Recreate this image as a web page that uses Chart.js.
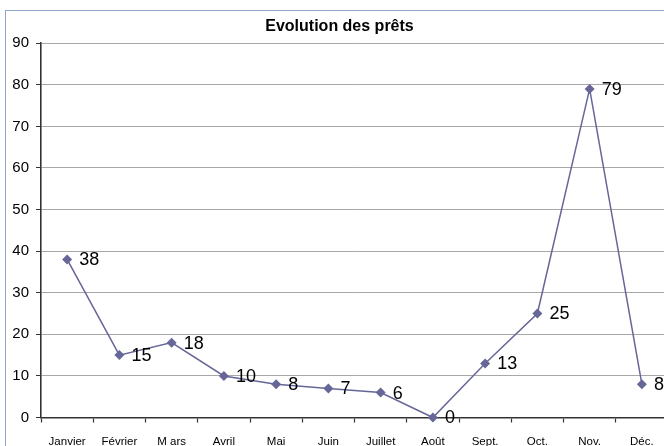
<!DOCTYPE html>
<html>
<head>
<meta charset="utf-8">
<script src="https://cdn.jsdelivr.net/npm/chart.js@4/dist/chart.umd.min.js"></script>
<style>
  html, body { margin: 0; padding: 0; width: 664px; height: 446px; overflow: hidden; background: #fff; }
  #frame { position: absolute; left: 5px; top: 10px; border-left: 1px solid #8ea6c8; border-top: 1px solid #8ea6c8; width: 700px; height: 460px; }
  canvas { display: block; }
</style>
</head>
<body>
<div id="frame"><canvas id="c" width="667" height="446"></canvas></div>
<script>
const categories = ["Janvier", "Février", "M ars", "Avril", "Mai", "Juin", "Juillet", "Août", "Sept.", "Oct.", "Nov.", "Déc."];
const prets = [38, 15, 18, 10, 8, 7, 6, 0, 13, 25, 79, 8];
const yTicks = [0, 10, 20, 30, 40, 50, 60, 70, 80, 90];
const titleText = "Evolution des prêts";

const valueLabels = {
  id: 'valueLabels',
  afterDatasetsDraw(chart) {
    const ctx = chart.ctx;
    const meta = chart.getDatasetMeta(0);
    ctx.save();
    ctx.font = '18px "Liberation Sans", Arial, sans-serif';
    ctx.fillStyle = '#000';
    ctx.textAlign = 'left';
    ctx.textBaseline = 'middle';
    meta.data.forEach((pt, i) => {
      ctx.fillText(String(prets[i]), pt.x + 12, pt.y + 1);
    });
    ctx.restore();
  }
};

new Chart(document.getElementById('c'), {
  type: 'line',
  data: {
    labels: categories,
    datasets: [{
      data: prets,
      borderColor: '#666699',
      backgroundColor: '#666699',
      borderWidth: 1.5,
      pointStyle: 'rectRot',
      pointRadius: 5,
      pointBackgroundColor: '#666699',
      pointBorderColor: '#666699',
      pointBorderWidth: 0,
      tension: 0,
      clip: false
    }]
  },
  options: {
    responsive: false,
    animation: false,
    devicePixelRatio: 1,
    layout: { padding: { left: 0, right: 0, top: 0, bottom: 0 } },
    plugins: {
      legend: { display: false },
      tooltip: { enabled: false },
      title: {
        display: true,
        text: titleText,
        color: '#000',
        font: { family: '"Liberation Sans", Arial, sans-serif', size: 16, weight: 'bold' },
        padding: { top: 6, bottom: 7 }
      }
    },
    scales: {
      x: {
        type: 'category',
        offset: true,
        afterFit(scale) { scale.height = 39.5; },
        grid: { display: true, drawOnChartArea: false, drawTicks: true, tickLength: 5, offset: true, tickColor: '#333', tickWidth: 1.2 },
        border: { display: true, color: '#333', width: 1.6 },
        ticks: {
          color: '#000',
          font: { family: '"Liberation Sans", Arial, sans-serif', size: 11.5 },
          padding: 12,
          maxRotation: 0,
          autoSkip: false
        }
      },
      y: {
        min: 0,
        max: 90,
        afterFit(scale) { scale.width = 35; },
        afterBuildTicks(scale) { scale.ticks = yTicks.map(v => ({ value: v })); },
        grid: { color: '#a8a8a8', lineWidth: 1, tickLength: 5, tickColor: '#333', drawTicks: true },
        border: { display: true, color: '#333', width: 1.6 },
        ticks: {
          color: '#000',
          font: { family: '"Liberation Sans", Arial, sans-serif', size: 15 },
          padding: 7
        }
      }
    }
  },
  plugins: [valueLabels]
});
</script>
</body>
</html>
